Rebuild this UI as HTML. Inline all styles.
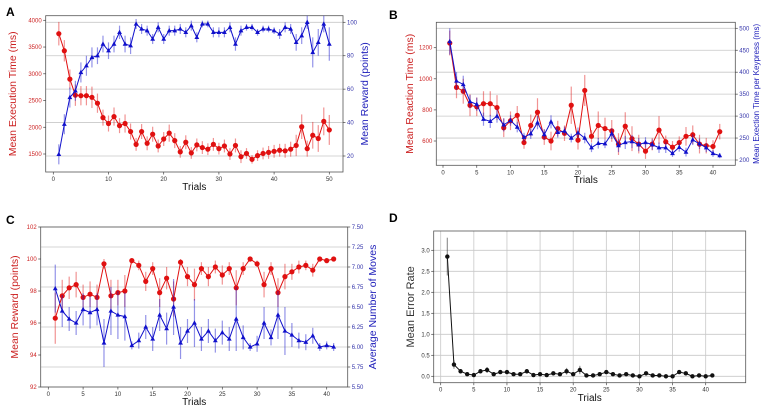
<!DOCTYPE html>
<html><head><meta charset="utf-8"><style>
html,body{margin:0;padding:0;background:#fff;}
svg{display:block;font-family:"Liberation Sans",sans-serif;}
</style></head><body>
<svg id="fig" width="767" height="414" viewBox="0 0 767 414"></svg>
<script>
// ---- Panel A data ----
const aTrials = Array.from({length:50},(_,i)=>i+1);
const aExec = [3750,3430,2900,2600,2590,2590,2560,2450,2180,2070,2200,2030,2070,1920,1680,1920,1700,1870,1650,1780,1890,1750,1540,1720,1520,1670,1620,1590,1680,1600,1650,1500,1660,1450,1510,1400,1470,1510,1530,1550,1570,1560,1590,1660,2010,1600,1850,1790,2110,1950];
const aExecErr = [220,200,180,200,180,180,200,180,150,150,170,140,170,150,120,140,130,140,120,130,160,140,110,130,110,120,120,110,120,110,120,110,130,120,100,80,100,110,120,120,120,130,140,200,230,150,250,250,260,280];
const aReward = [21,39,55,59,70,74,79,80,87,83,87,94,87,86,99,96,95,90,97,90,95,95,96,94,98,91,99,99,94,94,94,97,87,95,97,97,94,96,96,95,93,97,96,88,92,100,82,88,99,87];
const aRewardErr = [6,6,6,6,6,6,6,5,5,5,5,4,5,5,3,3,3,3,3,3,3,3,3,3,3,3,2,2,3,3,3,3,4,3,2,2,2,2,2,2,3,3,3,5,5,4,9,8,5,10];
const aLeftTicks = [1500,2000,2500,3000,3500,4000];
const aRightTicks = [20,40,60,80,100];
const aXTicks = [0,10,20,30,40,50];
// ---- Panel B data ----
const bTrials = Array.from({length:41},(_,i)=>i+1);
const bRT = [1230,945,920,830,820,840,840,815,685,730,765,590,700,785,625,600,680,650,830,605,925,630,700,680,665,580,695,615,580,535,580,670,595,560,590,630,640,580,570,565,660];
const bRTErr = [80,70,80,70,60,80,80,80,60,60,60,40,70,90,50,60,50,50,120,60,100,40,90,70,70,70,90,80,60,50,40,90,40,40,40,60,60,60,50,40,50];
const bKey = [470,380,372,333,327,293,288,300,280,290,275,252,260,285,258,287,263,266,250,262,250,228,238,237,260,233,240,242,235,240,235,228,228,215,229,218,246,237,228,215,210];
const bKeyErr = [30,20,20,15,15,15,15,15,15,12,12,10,12,15,12,15,12,10,10,12,12,10,12,10,12,15,15,15,15,12,12,12,12,8,10,10,12,12,10,8,6];
const bLeftTicks = [600,800,1000,1200];
const bRightTicks = [200,250,300,350,400,450,500];
const bXTicks = [0,5,10,15,20,25,30,35,40];
// ---- Panel C data ----
const cTrials = Array.from({length:41},(_,i)=>i+1);
const cReward = [96.3,97.7,98.2,98.4,97.6,97.8,97.6,99.7,97.7,97.9,98.0,99.9,99.6,98.6,99.4,97.9,98.8,97.5,99.8,98.9,98.4,99.4,98.9,99.5,99.0,99.4,98.2,99.4,100.0,99.7,98.4,99.4,97.9,98.9,99.2,99.5,99.6,99.3,100.0,99.9,100.0];
const cRewardErr = [1.6,1.0,0.7,0.8,0.8,0.8,0.8,0.3,1.0,0.8,1.0,0.1,0.3,0.6,0.4,0.9,0.7,1.1,0.2,0.6,1.0,0.4,0.6,0.4,0.6,0.4,1.1,0.4,0.05,0.2,0.8,0.4,0.9,0.8,0.5,0.4,0.3,0.4,0.05,0.1,0.05];
const cMoves = [6.73,6.45,6.35,6.30,6.47,6.43,6.47,6.05,6.45,6.40,6.38,6.02,6.08,6.25,6.10,6.40,6.23,6.50,6.05,6.20,6.30,6.10,6.20,6.08,6.18,6.10,6.35,6.12,6.00,6.04,6.30,6.12,6.40,6.20,6.15,6.08,6.06,6.14,6.00,6.02,6.00];
const cMovesErr = [0.3,0.2,0.15,0.15,0.2,0.2,0.2,0.3,0.3,0.3,0.3,0.05,0.1,0.15,0.15,0.2,0.2,0.35,0.2,0.15,0.3,0.15,0.15,0.15,0.15,0.15,0.4,0.15,0.05,0.1,0.2,0.1,0.3,0.3,0.15,0.1,0.1,0.1,0.05,0.05,0.05];
const cLeftTicks = [92,94,96,98,100,102];
const cRightTicks = [5.5,5.75,6.0,6.25,6.5,6.75,7.0,7.25,7.5];
const cXTicks = [0,5,10,15,20,25,30,35,40];
// ---- Panel D data ----
const dTrials = Array.from({length:41},(_,i)=>i+1);
const dErr = [2.85,0.28,0.12,0.05,0.03,0.12,0.15,0.05,0.1,0.1,0.05,0.05,0.12,0.03,0.05,0.03,0.07,0.05,0.12,0.05,0.15,0.02,0.02,0.05,0.1,0.05,0.02,0.05,0.02,0.0,0.07,0.02,0.02,0.0,0.0,0.1,0.07,0.0,0.02,0.0,0.02];
const dErrBar = [0.45,0.1,0.05,0.03,0.02,0.04,0.07,0.03,0.03,0.03,0.03,0.03,0.04,0.02,0.03,0.02,0.03,0.03,0.08,0.03,0.1,0.02,0.02,0.03,0.04,0.03,0.02,0.03,0.02,0.01,0.03,0.02,0.02,0.01,0.01,0.04,0.03,0.01,0.02,0.01,0.02];
const dYTicks = [0,0.5,1.0,1.5,2.0,2.5,3.0];
const dXTicks = [0,5,10,15,20,25,30,35,40];

const NS="http://www.w3.org/2000/svg";
const svg=document.getElementById('fig');
function el(tag,attrs,parent,text){const e=document.createElementNS(NS,tag);for(const k in attrs)e.setAttribute(k,attrs[k]);if(text!==undefined)e.textContent=text;(parent||svg).appendChild(e);return e;}
function lin(d0,d1,r0,r1){return v=>r0+(v-d0)*(r1-r0)/(d1-d0);}
function fmt(v,dec){return dec?v.toFixed(dec):String(v);}

function series(g,xs,ys,errs,sx,sy,color,marker,ms,name){
  const sg=el('g',{},g);
  
  
  for(let i=0;i<xs.length;i++){
    const eb=el('line',{x1:sx(xs[i]),x2:sx(xs[i]),y1:sy(ys[i]-errs[i]),y2:sy(ys[i]+errs[i]),stroke:color,'stroke-opacity':0.45,'stroke-width':1.2},sg);
    
    
  }
  const pl=el('polyline',{points:xs.map((x,i)=>sx(x)+','+sy(ys[i])).join(' '),fill:'none',stroke:color,'stroke-width':1},sg);
  
  
  for(let i=0;i<xs.length;i++){
    const cx=sx(xs[i]),cy=sy(ys[i]);let m;
    if(marker==='o')m=el('circle',{cx:cx,cy:cy,r:ms,fill:color},sg);
    else m=el('polygon',{points:`${cx},${cy-ms*1.1} ${cx-ms},${cy+ms*0.7} ${cx+ms},${cy+ms*0.7}`,fill:color},sg);
    
    
  }
}

function panel(o){
  const g=el('g',{});
  
  
  const sx=lin(o.x0v,o.x1v,o.x0p,o.x1p);
  const syL=lin(o.lv0,o.lv1,o.lp0,o.lp1);
  const syR=o.rTicks?lin(o.rv0,o.rv1,o.rp0,o.rp1):null;
  const gridTicks=o.rTicks||o.lTicks, gs=syR||syL;
  gridTicks.forEach(t=>{const l=el('line',{x1:o.bx0,x2:o.bx1,y1:gs(t),y2:gs(t),stroke:'#c8c8c8','stroke-width':0.8},g);});
  if(o.xgrid)o.xTicks.forEach(t=>{const l=el('line',{x1:sx(t),x2:sx(t),y1:o.by0,y2:o.by1,stroke:'#c8c8c8','stroke-width':0.8},g);});
  const fr=el('rect',{x:o.bx0,y:o.by0,width:o.bx1-o.bx0,height:o.by1-o.by0,fill:'none',stroke:'#555','stroke-width':0.8},g);
  
  o.xTicks.forEach(t=>{el('line',{x1:sx(t),x2:sx(t),y1:o.by1,y2:o.by1+2.5,stroke:'#444','stroke-width':0.7},g);
    const tx=el('text',{x:sx(t),y:o.by1+9,'font-size':6,'text-anchor':'middle',fill:'#333'},g,t);});
  o.lTicks.forEach(t=>{el('line',{x1:o.bx0-2.5,x2:o.bx0,y1:syL(t),y2:syL(t),stroke:'#444','stroke-width':0.7},g);
    const tx=el('text',{x:o.bx0-4,y:syL(t)+2,'font-size':6,'text-anchor':'end',fill:o.lColor},g,fmt(t,o.lDec));});
  if(o.rTicks)o.rTicks.forEach(t=>{el('line',{x1:o.bx1,x2:o.bx1+2.5,y1:syR(t),y2:syR(t),stroke:'#444','stroke-width':0.7},g);
    const tx=el('text',{x:o.bx1+4,y:syR(t)+2,'font-size':6,'text-anchor':'start',fill:'#3333aa'},g,fmt(t,o.rDec));});
  o.series.forEach(s=>series(g,s.x,s.y,s.e,sx,s.right?syR:syL,s.color,s.marker,s.ms,s.name));
  const xl=el('text',{x:(o.bx0+o.bx1)/2,y:o.xlY,'font-size':10,'text-anchor':'middle',fill:'#111'},g,'Trials');
  
  const yc=(o.by0+o.by1)/2;
  const yl=el('text',{x:o.ylX,y:yc,'font-size':o.ylSize||10.5,'text-anchor':'middle',fill:o.lColor,transform:`rotate(-90 ${o.ylX} ${yc})`},g,o.ylText);
  
  if(o.yrText){const yr=el('text',{x:o.yrX,y:yc,'font-size':o.yrSize||10.5,'text-anchor':'middle',fill:'#2222bb',transform:`rotate(-90 ${o.yrX} ${yc})`},g,o.yrText);
    }
  const lt=el('text',{x:o.letX,y:o.letY,'font-size':12,'font-weight':'bold',fill:'#000'},g,o.letter);
  
}
const RED='#e01010',BLUE='#1010cc';
panel({name:'panel-a',letter:'A',letX:6,letY:16,bx0:45.7,bx1:343,by0:15.7,by1:172,
  x0v:0,x1v:50,x0p:53.3,x1p:329.3,lv0:1500,lv1:4000,lp0:154,lp1:20.3,rv0:20,rv1:100,rp0:156,rp1:22.3,
  xTicks:aXTicks,lTicks:aLeftTicks,rTicks:aRightTicks,lColor:'#cc2222',xlY:190,
  ylX:16,ylText:'Mean Execution Time (ms)',yrX:368,yrText:'Mean Reward (points)',
  series:[{x:aTrials,y:aExec,e:aExecErr,color:RED,marker:'o',ms:2.6,name:'execution-time-series'},
          {x:aTrials,y:aReward,e:aRewardErr,color:BLUE,marker:'^',ms:2.4,right:true,name:'reward-series'}]});
panel({name:'panel-b',letter:'B',letX:389,letY:19,bx0:436.3,bx1:735.3,by0:22.3,by1:165.3,
  x0v:0,x1v:40,x0p:443,x1p:713,lv0:600,lv1:1200,lp0:141,lp1:47.7,rv0:200,rv1:500,rp0:160,rp1:28.3,
  xTicks:bXTicks,lTicks:bLeftTicks,rTicks:bRightTicks,lColor:'#cc2222',xlY:183,
  ylX:413,ylText:'Mean Reaction Time (ms)',yrX:759,yrSize:8,yrText:'Mean Exection Time per Keypress (ms)',
  series:[{x:bTrials,y:bRT,e:bRTErr,color:RED,marker:'o',ms:2.6,name:'reaction-time-series'},
          {x:bTrials,y:bKey,e:bKeyErr,color:BLUE,marker:'^',ms:2.4,right:true,name:'keypress-time-series'}]});
panel({name:'panel-c',letter:'C',letX:6,letY:224,bx0:40.7,bx1:347.7,by0:227,by1:387,
  x0v:0,x1v:40,x0p:48.3,x1p:326.7,lv0:92,lv1:102,lp0:387,lp1:227,rv0:5.5,rv1:7.5,rp0:387,rp1:227,
  xTicks:cXTicks,lTicks:cLeftTicks,rTicks:cRightTicks,rDec:2,lColor:'#cc2222',xlY:405,
  ylX:18,ylText:'Mean Reward (points)',yrX:376,yrText:'Average Number of Moves',
  series:[{x:cTrials,y:cReward,e:cRewardErr,color:RED,marker:'o',ms:2.6,name:'mean-reward-series'},
          {x:cTrials,y:cMoves,e:cMovesErr,color:BLUE,marker:'^',ms:2.4,right:true,name:'moves-series'}]});
panel({name:'panel-d',letter:'D',letX:389,letY:222,bx0:433.7,bx1:745.7,by0:231,by1:382.7,
  x0v:0,x1v:40,x0p:440.7,x1p:705.7,lv0:0,lv1:3,lp0:376.3,lp1:250.3,
  xTicks:dXTicks,lTicks:dYTicks,lDec:1,lColor:'#333',xgrid:true,xlY:401,
  ylX:414,ylSize:11,ylText:'Mean Error Rate',
  series:[{x:dTrials,y:dErr,e:dErrBar,color:'#111',marker:'o',ms:2.2,name:'error-rate-series'}]});
</script>
</body></html>
